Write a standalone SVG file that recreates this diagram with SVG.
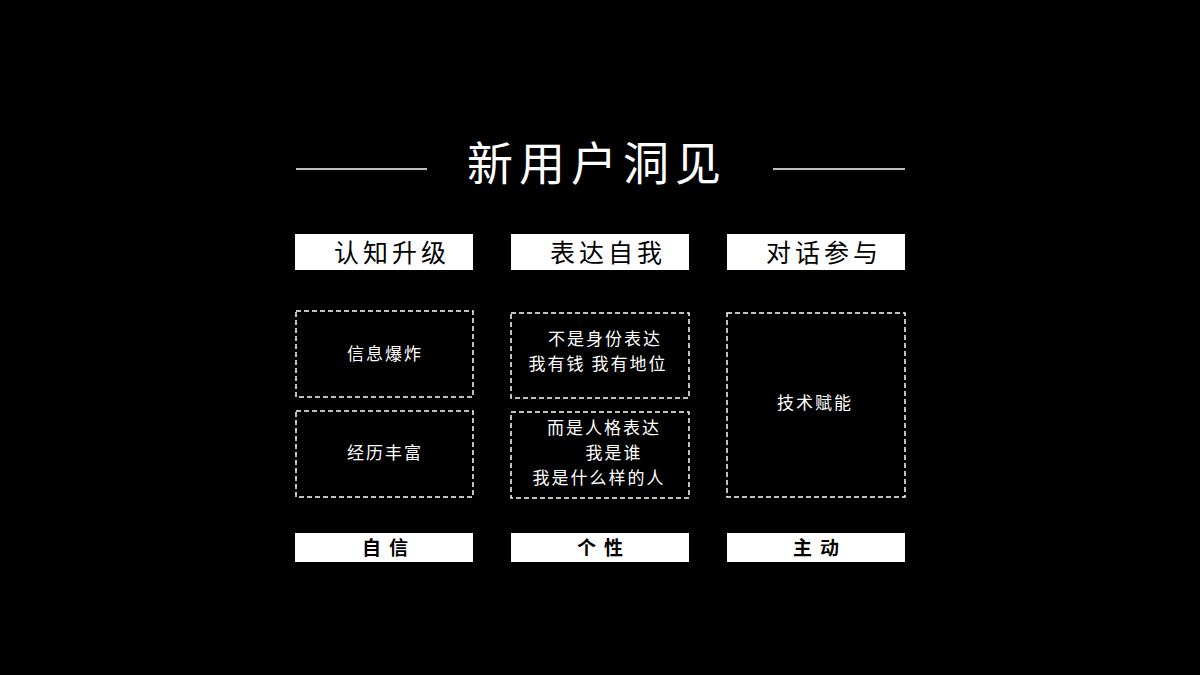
<svg xmlns="http://www.w3.org/2000/svg" width="1200" height="675" viewBox="0 0 1200 675">
<style>
text{font-family:"Noto Sans CJK SC","Noto Sans",sans-serif;text-anchor:middle}
.hd{fill:#fff}
.hdt{font-size:25px;fill:#000;letter-spacing:4px}
.db{fill:none;stroke:#fff;stroke-width:1.5;stroke-dasharray:5,3}
.dt{font-size:17px;fill:#fff;letter-spacing:2px}
.ft{font-size:19px;fill:#000;font-weight:bold;letter-spacing:8px}
</style>
<rect width="1200" height="675" fill="#000"/>
<g id="title">
<line x1="296" y1="169" x2="427" y2="169" stroke="#fff" stroke-width="1.5"/>
<line x1="773" y1="169" x2="905" y2="169" stroke="#fff" stroke-width="1.5"/>
<text x="597" y="180" font-size="46" fill="#fff" letter-spacing="6">新用户洞见</text>
</g>
<g id="h1"><rect class="hd" x="295" y="234" width="178" height="36"/><text class="hdt" x="392" y="262">认知升级</text></g>
<g id="h2"><rect class="hd" x="511" y="234" width="178" height="36"/><text class="hdt" x="608" y="262">表达自我</text></g>
<g id="h3"><rect class="hd" x="727" y="234" width="178" height="36"/><text class="hdt" x="824" y="262">对话参与</text></g>
<g id="c1a"><rect class="db" x="296" y="311" width="177" height="86"/><text class="dt" x="385" y="360">信息爆炸</text></g>
<g id="c1b"><rect class="db" x="296" y="411" width="177" height="86"/><text class="dt" x="385" y="459">经历丰富</text></g>
<g id="c2a"><rect class="db" x="511" y="313" width="178" height="85"/><text class="dt" x="605" y="345">不是身份表达</text><text class="dt" x="598" y="370">我有钱 我有地位</text></g>
<g id="c2b"><rect class="db" x="511" y="412" width="178" height="86"/><text class="dt" x="604" y="434">而是人格表达</text><text class="dt" x="614" y="459">我是谁</text><text class="dt" x="599" y="484">我是什么样的人</text></g>
<g id="c3"><rect class="db" x="727" y="313" width="178" height="184"/><text class="dt" x="815" y="409">技术赋能</text></g>
<g id="f1"><rect class="hd" x="295" y="533" width="178" height="29"/><text class="ft" x="389" y="555">自信</text></g>
<g id="f2"><rect class="hd" x="511" y="533" width="178" height="29"/><text class="ft" x="604" y="555">个性</text></g>
<g id="f3"><rect class="hd" x="727" y="533" width="178" height="29"/><text class="ft" x="820" y="555">主动</text></g>
<g id="connectors"/>
</svg>
